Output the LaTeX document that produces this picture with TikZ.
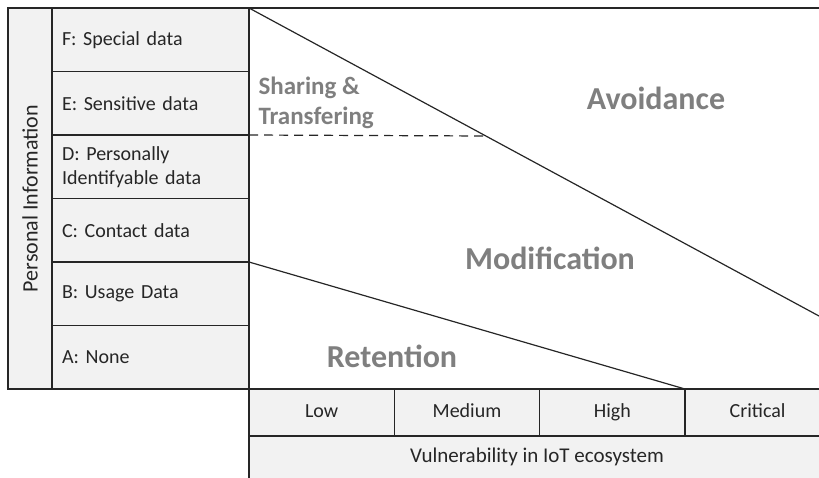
\documentclass[tikz,border=0pt]{standalone}
\usepackage{fontspec}
\setmainfont{Carlito}
\usepackage{tikz}
\usetikzlibrary{positioning}
\definecolor{boxfill}{HTML}{F2F2F2}
\definecolor{zonegray}{HTML}{7F7F7F}
\definecolor{txtgray}{HTML}{262626}
\tikzstyle{cell} = [rectangle, draw=black!85, line width=1.2pt, fill=boxfill, inner sep=0, outer sep=0, text=txtgray, font=\fontsize{20}{24}\selectfont]
\tikzstyle{datarow} = [cell, minimum width=197pt, minimum height=63.5pt, text width=177pt, align=left]
\tikzstyle{levelbox} = [cell, minimum width=145.33pt, minimum height=47pt, text height=14pt, text depth=4pt, align=center]
\tikzstyle{zone} = [draw=none, text=zonegray, font=\fontsize{32}{38}\selectfont\bfseries]
\tikzstyle{border} = [draw=black!85, line width=1.2pt]

\begin{document}
\begin{tikzpicture}[x=1pt, y=-1pt]
\useasboundingbox (0,0) rectangle (819,477);
% personal information axis
\node [cell, minimum width=44pt, minimum height=381pt, anchor=north west] (pi) at (8,8) {};
\node [draw=none, rotate=90, text=txtgray, font=\fontsize{22}{26}\selectfont] (pilabel) at (pi.center) {Personal Information};
\node [datarow, anchor=north west] (F) at (52,8) {F: Special data};
\node [datarow, below=0pt of F] (E) {E: Sensitive data};
\node [datarow, below=0pt of E] (D) {D: Personally\\Identifyable data};
\node [datarow, below=0pt of D] (C) {C: Contact data};
\node [datarow, below=0pt of C] (B) {B: Usage Data};
\node [datarow, below=0pt of B] (A) {A: None};
% vulnerability axis
\node [levelbox, anchor=north west] (low) at (249,389) {Low};
\node [levelbox, right=0pt of low] (medium) {Medium};
\node [levelbox, right=0pt of medium] (high) {High};
\node [levelbox, right=0pt of high] (critical) {Critical};
\node [cell, minimum width=580pt, minimum height=47pt, anchor=north west] (vuln) at (249,436) {};
\node [draw=none, text=txtgray, font=\fontsize{21}{25}\selectfont] (vulnlabel) at (537,457) {Vulnerability in IoT ecosystem};
% zones
\coordinate (topright) at (825,8);
\coordinate (avoidend) at (819,316);
\coordinate (sharend) at (486,136);
\draw [border] (F.north east) -- (topright);
\draw [border] (F.north east) -- (avoidend);
\draw [border] (B.north east) -- (high.north east);
\draw [border, dashed, dash pattern=on 9pt off 6pt] (D.north east) -- (sharend);
\node [zone, font=\fontsize{25}{30}\selectfont\bfseries, align=left, anchor=west] (share) at (255,103) {Sharing \&\\Transfering};
\node [zone] (avoid) at (656,98) {Avoidance};
\node [zone] (modif) at (550,258) {Modification};
\node [zone] (retain) at (392,356) {Retention};
\end{tikzpicture}
\end{document}
